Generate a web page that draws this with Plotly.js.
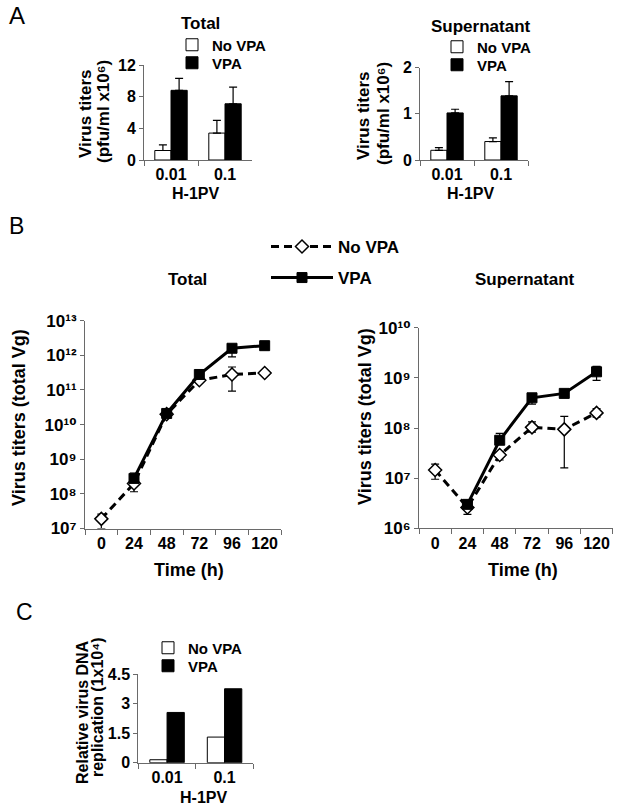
<!DOCTYPE html>
<html><head><meta charset="utf-8">
<script src="https://cdn.plot.ly/plotly-3.0.1.min.js"></script>
<style>html,body{margin:0;padding:0;background:#fff}</style>
</head><body><div id="chart" style="width:623px;height:807px"></div>
<script>
// ---------- Panel A data ----------
const doseLabels = ["0.01", "0.1"];
const aTotalNoVPA = [1.2, 3.4];
const aTotalNoVPAErr = [0.7, 1.6];
const aTotalVPA = [8.8, 7.1];
const aTotalVPAErr = [1.5, 2.1];
const aSupNoVPA = [0.21, 0.40];
const aSupNoVPAErr = [0.06, 0.08];
const aSupVPA = [1.02, 1.39];
const aSupVPAErr = [0.08, 0.31];

// ---------- Panel B data ----------
const times = ["0", "24", "48", "72", "96", "120"];
const timesVPA = ["24", "48", "72", "96", "120"];
const bTotalNoVPA = [1.9e7, 2.0e8, 2.0e10, 1.9e11, 2.8e11, 3.1e11];
const bTotalNoVPAErrUp = [0.7e7, 0.5e8, 0.3e10, 0.2e11, 1.8e11, 0.3e11];
const bTotalNoVPAErrDown = [0.9e7, 0.85e8, 0.3e10, 0.2e11, 1.87e11, 0.3e11];
const bTotalVPA = [2.8e8, 2.1e10, 2.8e11, 1.6e12, 1.9e12];
const bTotalVPAErrUp = [1.2e8, 0.3e10, 0.3e11, 0.3e12, 0.2e12];
const bTotalVPAErrDown = [0.5e8, 0.3e10, 0.3e11, 0.7e12, 0.2e12];
const bSupNoVPA = [1.45e7, 2.6e6, 2.9e7, 1.03e8, 9.4e7, 2.0e8];
const bSupNoVPAErrUp = [0.45e7, 0.5e6, 0.5e7, 0.3e8, 0.76e8, 0.45e8];
const bSupNoVPAErrDown = [0.5e7, 0.7e6, 0.6e7, 0.2e8, 7.8e7, 0.35e8];
const bSupVPA = [3.0e6, 5.7e7, 4.0e8, 4.9e8, 1.32e9];
const bSupVPAErrUp = [0.3e6, 2.1e7, 0.3e8, 0.3e8, 0.38e9];
const bSupVPAErrDown = [0.3e6, 1.0e7, 1.0e8, 0.3e8, 0.43e9];
const foldTotalLabels = ["x1.5", "x5.6", "x6"];
const foldTotalTimes = ["72", "96", "120"];
const foldSupLabels = ["x1.9", "x3.7", "x5", "x6.4"];
const foldSupTimes = ["48", "72", "96", "120"];
const logTickVals = [1e6, 1e7, 1e8, 1e9, 1e10, 1e11, 1e12, 1e13];
const logTickText = ["10⁶", "10⁷", "10⁸", "10⁹", "10¹⁰", "10¹¹", "10¹²", "10¹³"];

// ---------- Panel C data ----------
const cNoVPA = [0.15, 1.3];
const cVPA = [2.55, 3.75];
const cTickVals = [0, 1.5, 3, 4.5];
const cTickText = ["0", "1.5", "3", "4.5"];

// ---------- helpers ----------
const W = 623, H = 807;
const fx = p => p / W;
const fy = p => 1 - p / H;
const FAM = 'Liberation Sans, Arial, DejaVu Sans, sans-serif';
const f = (size, weight) => ({family: FAM, size: size, color: '#000', weight: weight || 'bold'});
const AX = '#6a6a6a';

function xCat(d0, d1, cats, anchor) {
  return {domain: [fx(d0), fx(d1)], anchor: anchor, type: 'category', categoryorder: 'array',
    categoryarray: cats, range: [-0.5, cats.length - 0.5], tickson: 'boundaries', tickangle: 0,
    ticks: 'outside', ticklen: 5, tickwidth: 1, tickcolor: AX, showline: true, linecolor: AX,
    linewidth: 1, showgrid: false, zeroline: false, tickfont: f(16), fixedrange: true};
}
function yLin(top, bottom, range, vals, text, anchor) {
  return {domain: [fy(bottom), fy(top)], anchor: anchor, range: range, tickvals: vals,
    ticktext: text, ticks: 'outside', ticklen: 4, tickwidth: 1, tickcolor: AX, showline: true,
    linecolor: AX, linewidth: 1, showgrid: false, zeroline: false, tickfont: f(16), fixedrange: true};
}
function yLog(top, bottom, range, anchor) {
  return {domain: [fy(bottom), fy(top)], anchor: anchor, type: 'log', range: range,
    tickvals: logTickVals, ticktext: logTickText, ticks: 'outside', ticklen: 4, tickwidth: 1,
    tickcolor: AX, showline: true, linecolor: AX, linewidth: 1, showgrid: false, zeroline: false,
    tickfont: f(17), fixedrange: true};
}
const errBar = (arr) => ({type: 'data', array: arr, arrayminus: arr.map(() => 0), symmetric: false,
  color: '#000', thickness: 1.2, width: 4});
const errBoth = (up, down) => ({type: 'data', array: up, arrayminus: down, symmetric: false,
  color: '#000', thickness: 1.2, width: 4});
const whiteBar = {color: '#fff', line: {color: '#000', width: 1}};
const blackBar = {color: '#000', line: {color: '#000', width: 1}};
const noVpaLine = {color: '#000', width: 3, dash: '8px,5px'};
const vpaLine = {color: '#000', width: 3};
const diamond = {symbol: 'diamond', size: 10, color: '#fff', line: {color: '#000', width: 1.5}};
const square = {symbol: 'square', size: 10, color: '#000', line: {color: '#000', width: 1}};

const data = [
  {type: 'bar', name: 'No VPA', x: doseLabels, y: aTotalNoVPA, marker: whiteBar,
   error_y: errBar(aTotalNoVPAErr), xaxis: 'x', yaxis: 'y', legend: 'legend'},
  {type: 'bar', name: 'VPA', x: doseLabels, y: aTotalVPA, marker: blackBar,
   error_y: errBar(aTotalVPAErr), xaxis: 'x', yaxis: 'y', legend: 'legend5'},
  {type: 'bar', name: 'No VPA', x: doseLabels, y: aSupNoVPA, marker: whiteBar,
   error_y: errBar(aSupNoVPAErr), xaxis: 'x2', yaxis: 'y2', legend: 'legend2'},
  {type: 'bar', name: 'VPA', x: doseLabels, y: aSupVPA, marker: blackBar,
   error_y: errBar(aSupVPAErr), xaxis: 'x2', yaxis: 'y2', legend: 'legend6'},
  {type: 'scatter', mode: 'lines+markers', name: 'No VPA', x: times, y: bTotalNoVPA,
   line: noVpaLine, marker: diamond, error_y: errBoth(bTotalNoVPAErrUp, bTotalNoVPAErrDown),
   xaxis: 'x3', yaxis: 'y3', legend: 'legend4'},
  {type: 'scatter', mode: 'lines+markers', name: 'VPA', x: timesVPA, y: bTotalVPA,
   line: vpaLine, marker: square, error_y: errBoth(bTotalVPAErrUp, bTotalVPAErrDown),
   xaxis: 'x3', yaxis: 'y3', legend: 'legend8'},
  {type: 'scatter', mode: 'lines+markers', name: 'No VPA', x: times, y: bSupNoVPA,
   line: noVpaLine, marker: diamond, error_y: errBoth(bSupNoVPAErrUp, bSupNoVPAErrDown),
   xaxis: 'x4', yaxis: 'y4', showlegend: false},
  {type: 'scatter', mode: 'lines+markers', name: 'VPA', x: timesVPA, y: bSupVPA,
   line: vpaLine, marker: square, error_y: errBoth(bSupVPAErrUp, bSupVPAErrDown),
   xaxis: 'x4', yaxis: 'y4', showlegend: false},
  {type: 'bar', name: 'No VPA', x: doseLabels, y: cNoVPA, marker: whiteBar,
   xaxis: 'x5', yaxis: 'y5', legend: 'legend3'},
  {type: 'bar', name: 'VPA', x: doseLabels, y: cVPA, marker: blackBar,
   xaxis: 'x5', yaxis: 'y5', legend: 'legend7'}
];

function txt(text, x, y, size, opts) {
  return Object.assign({text: text, xref: 'paper', yref: 'paper', x: fx(x), y: fy(y),
    xanchor: 'center', yanchor: 'middle', showarrow: false, font: f(size)}, opts || {});
}
const annotations = [
  txt('A', 17, 16, 24, {font: f(24, 'normal')}),
  txt('B', 16, 226, 23, {font: f(23, 'normal')}),
  txt('C', 24, 612, 23, {font: f(23, 'normal')}),
  txt('Total', 200, 24, 17),
  txt('Supernatant', 481, 27, 17),
  txt('Virus titers', 85, 114, 17, {textangle: -90}),
  txt('(pfu/ml x10⁶)', 103, 112, 17, {textangle: -90}),
  txt('H-1PV', 195, 194, 16),
  txt('Virus titers', 364, 116, 17, {textangle: -90}),
  txt('(pfu/ml x10⁶)', 383, 114, 17, {textangle: -90}),
  txt('H-1PV', 470, 194, 16),
  txt('Total', 187, 280, 17),
  txt('Supernatant', 525, 280, 17),
  txt('Virus titers (total Vg)', 19, 418, 18, {textangle: -90}),
  txt('Virus titers (total Vg)', 365, 417, 18, {textangle: -90}),
  txt('Time (h)', 189, 570, 18),
  txt('Time (h)', 523, 570, 18),
  txt('Relative virus DNA', 82, 712, 16, {textangle: -90}),
  txt('replication (1x10⁴)', 97, 707, 16, {textangle: -90}),
  txt('H-1PV', 203, 797, 16)
];
const totShift = [[0, 25], [-5, 21], [-1, 19]];
foldTotalLabels.forEach((t, i) => {
  const k = timesVPA.indexOf(foldTotalTimes[i]);
  annotations.push({text: t, xref: 'x3', yref: 'y3', x: foldTotalTimes[i], y: Math.log10(bTotalVPA[k]),
    xshift: totShift[i][0], yshift: totShift[i][1], showarrow: false, font: f(14)});
});
const supShift = [[-10, 22], [-5, 19], [-5, 15], [-5, 22]];
foldSupLabels.forEach((t, i) => {
  const k = timesVPA.indexOf(foldSupTimes[i]);
  annotations.push({text: t, xref: 'x4', yref: 'y4', x: foldSupTimes[i], y: Math.log10(bSupVPA[k]),
    xshift: supShift[i][0], yshift: supShift[i][1], showarrow: false, font: f(14)});
});

const legendBase = {xanchor: 'left', yanchor: 'middle', bgcolor: 'rgba(0,0,0,0)', borderwidth: 0,
  font: f(15), itemwidth: 30, itemclick: false, itemdoubleclick: false};
const L = (x, y, extra) => Object.assign({}, legendBase, {x: fx(x), y: fy(y)}, extra || {});
const layout = {
  width: W, height: H, margin: {l: 0, r: 0, t: 0, b: 0}, paper_bgcolor: '#fff', plot_bgcolor: '#fff',
  font: f(15), showlegend: true, barmode: 'group', bargap: 0.4, bargroupgap: 0,
  xaxis: xCat(144, 252, doseLabels, 'y'),
  yaxis: yLin(65, 160, [0, 12], [0, 4, 8, 12], ['0', '4', '8', '12'], 'x'),
  xaxis2: xCat(420, 528, doseLabels, 'y2'),
  yaxis2: yLin(67.7, 160, [0, 2], [0, 1, 2], ['0', '1', '2'], 'x2'),
  xaxis3: xCat(85, 281, times, 'y3'),
  yaxis3: yLog(320.7, 528.5, [7, 13], 'x3'),
  xaxis4: xCat(419, 612.7, times, 'y4'),
  yaxis4: yLog(327.7, 528.3, [6, 10], 'x4'),
  xaxis5: xCat(138.3, 253.3, doseLabels, 'y5'),
  yaxis5: yLin(674, 762.7, [0, 4.5], cTickVals, cTickText, 'x5'),
  legend: L(172, 45),
  legend5: L(172, 63),
  legend2: L(437, 47),
  legend6: L(437, 65),
  legend3: L(148, 648),
  legend7: L(148, 666),
  legend4: L(266, 247, {font: f(17), itemwidth: 62}),
  legend8: L(266, 278, {font: f(17), itemwidth: 62}),
  annotations: annotations
};
Plotly.newPlot('chart', data, layout, {displayModeBar: false, staticPlot: true});
</script>
</body></html>
